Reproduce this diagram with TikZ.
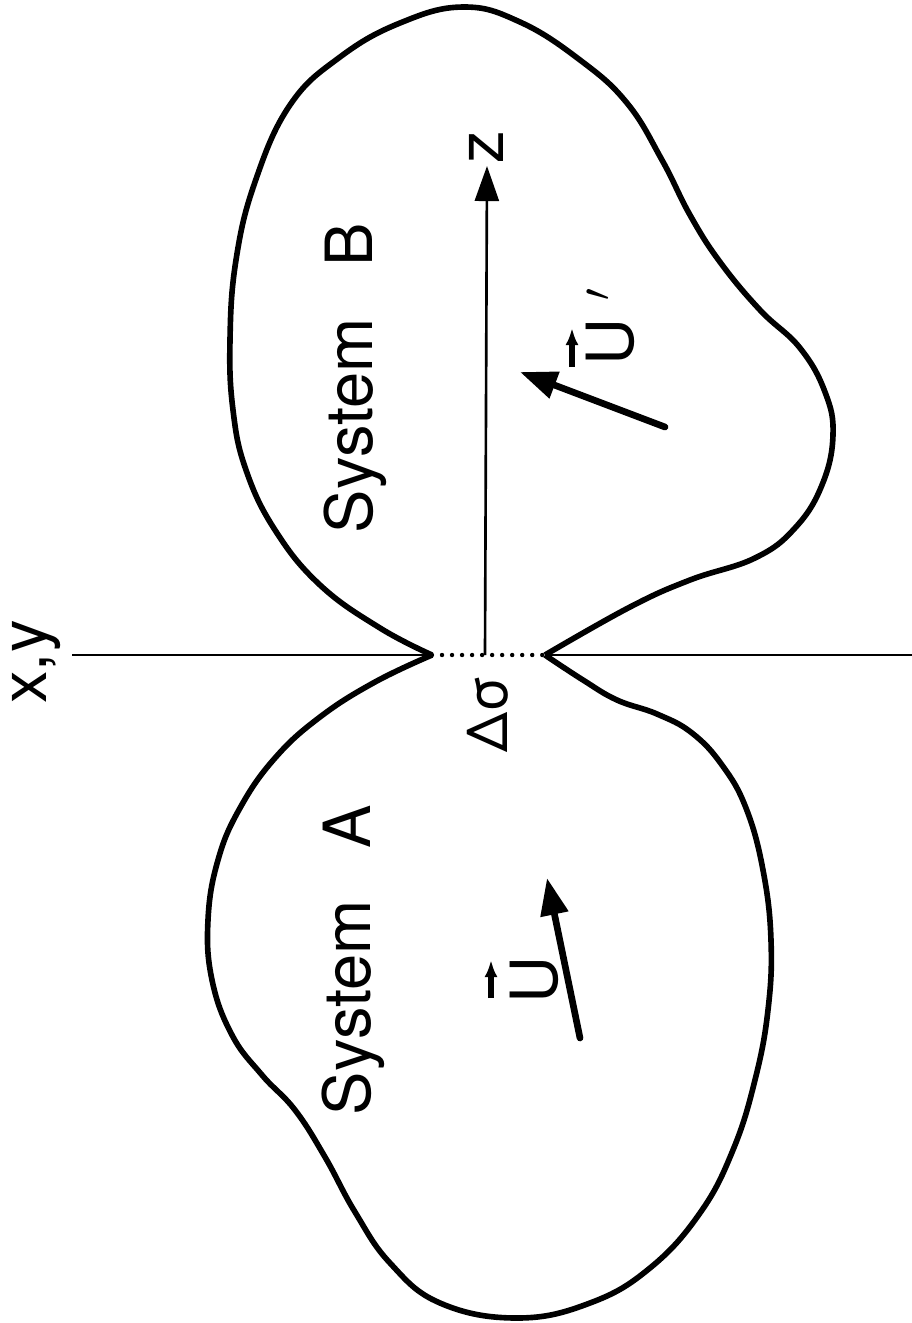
\documentclass[tikz,border=0pt]{standalone}
\usepackage{fontspec}
\setmainfont{TeX Gyre Heros}
\usetikzlibrary{positioning,calc,arrows.meta}
\tikzset{
  outline/.style={draw=black,line width=1.6pt,line join=round},
  axisline/.style={draw=black,line width=0.75pt},
  gapline/.style={draw=black,line width=1.25pt,line cap=round,dash pattern=on 0pt off 2.85pt},
  zarrow/.style={axisline,-{Triangle[length=0.35cm,width=0.24cm]}},
  vel/.style={draw=black,line width=1.9pt,line cap=round,-{Triangle[length=0.37cm,width=0.27cm]}},
  vecmark/.style={draw=black,line width=1.6pt,-{Latex[length=0.17cm,width=0.13cm]}},
  lbl/.style={rotate=90,anchor=base,inner sep=0pt,font=\fontsize{18.5}{22}\selectfont},
}

\begin{document}
\begin{tikzpicture}[x=0.01cm,y=-0.01cm]
  \useasboundingbox (0,0) rectangle (912,1323);

  % contact points and axes
  \coordinate (cl) at (432,655);
  \coordinate (cr) at (545,655);
  \coordinate (lend) at (72,655);
  \coordinate (rend) at (912,655);
  \coordinate (o) at (485,655);
  \coordinate (ztip) at (487,166);

  \draw[axisline] (lend) -- (cl);
  \draw[axisline] (cr) -- (rend);
  \draw[gapline] (cl) -- (cr);
  \draw[zarrow] (o) -- (ztip);

  % system B
  \draw[outline] plot[smooth,tension=0.7] coordinates {
    (432,655) (380,628) (320,585) (275,530) (246,470) (233,410) (230,340)
    (236,260) (255,182) (290,105) (340,57) (400,23) (463,7) (520,22)
    (580,60) (627,103) (662,160) (690,215) (720,262) (760,310) (800,348)
    (825,392) (833,435) (822,485) (795,528) (755,558) (690,580) (630,607)
    (545,655)};

  % system A
  \draw[outline] plot[smooth,tension=0.7] coordinates {
    (432,655) (375,682) (320,717) (275,758) (240,808) (218,860) (208,920)
    (212,980) (232,1035) (262,1075) (295,1110) (325,1157) (355,1212)
    (390,1263) (440,1303) (517,1318) (590,1303) (650,1268) (700,1213)
    (733,1150) (755,1080) (768,1010) (771,940) (763,870) (746,808)
    (722,765) (692,733) (657,714) (617,700) (583,680) (545,655)};

  % velocities
  \coordinate (ua0) at (580,1038);
  \coordinate (ua1) at (547,878);
  \coordinate (ub0) at (665,427);
  \coordinate (ub1) at (520,372);
  \draw[vel] (ua0) -- (ua1);
  \draw[vel] (ub0) -- (ub1);

  % labels
  \node[lbl] (xy) at (46,662) {x,y};
  \node[lbl] (zlab) at (503,147) {z};
  \node[lbl] (sysb) at (372,378) {System\hspace{0.8em}B};
  \node[lbl] (sysa) at (370,960) {System\hspace{0.8em}A};
  \node[lbl,font=\fontsize{16}{19}\selectfont] (dsig) at (507,714) {Δσ};
  \node[lbl] (ua) at (557,980) {U};
  \node[lbl,anchor=base west] (ub) at (633,366) {U\kern5pt$'$};

  % vector marks over U and U'
  \coordinate (va0) at (491,998);
  \coordinate (va1) at (491,960);
  \coordinate (vb0) at (572,367);
  \coordinate (vb1) at (572,328);
  \draw[vecmark] (va0) -- (va1);
  \draw[vecmark] (vb0) -- (vb1);
\end{tikzpicture}
\end{document}
